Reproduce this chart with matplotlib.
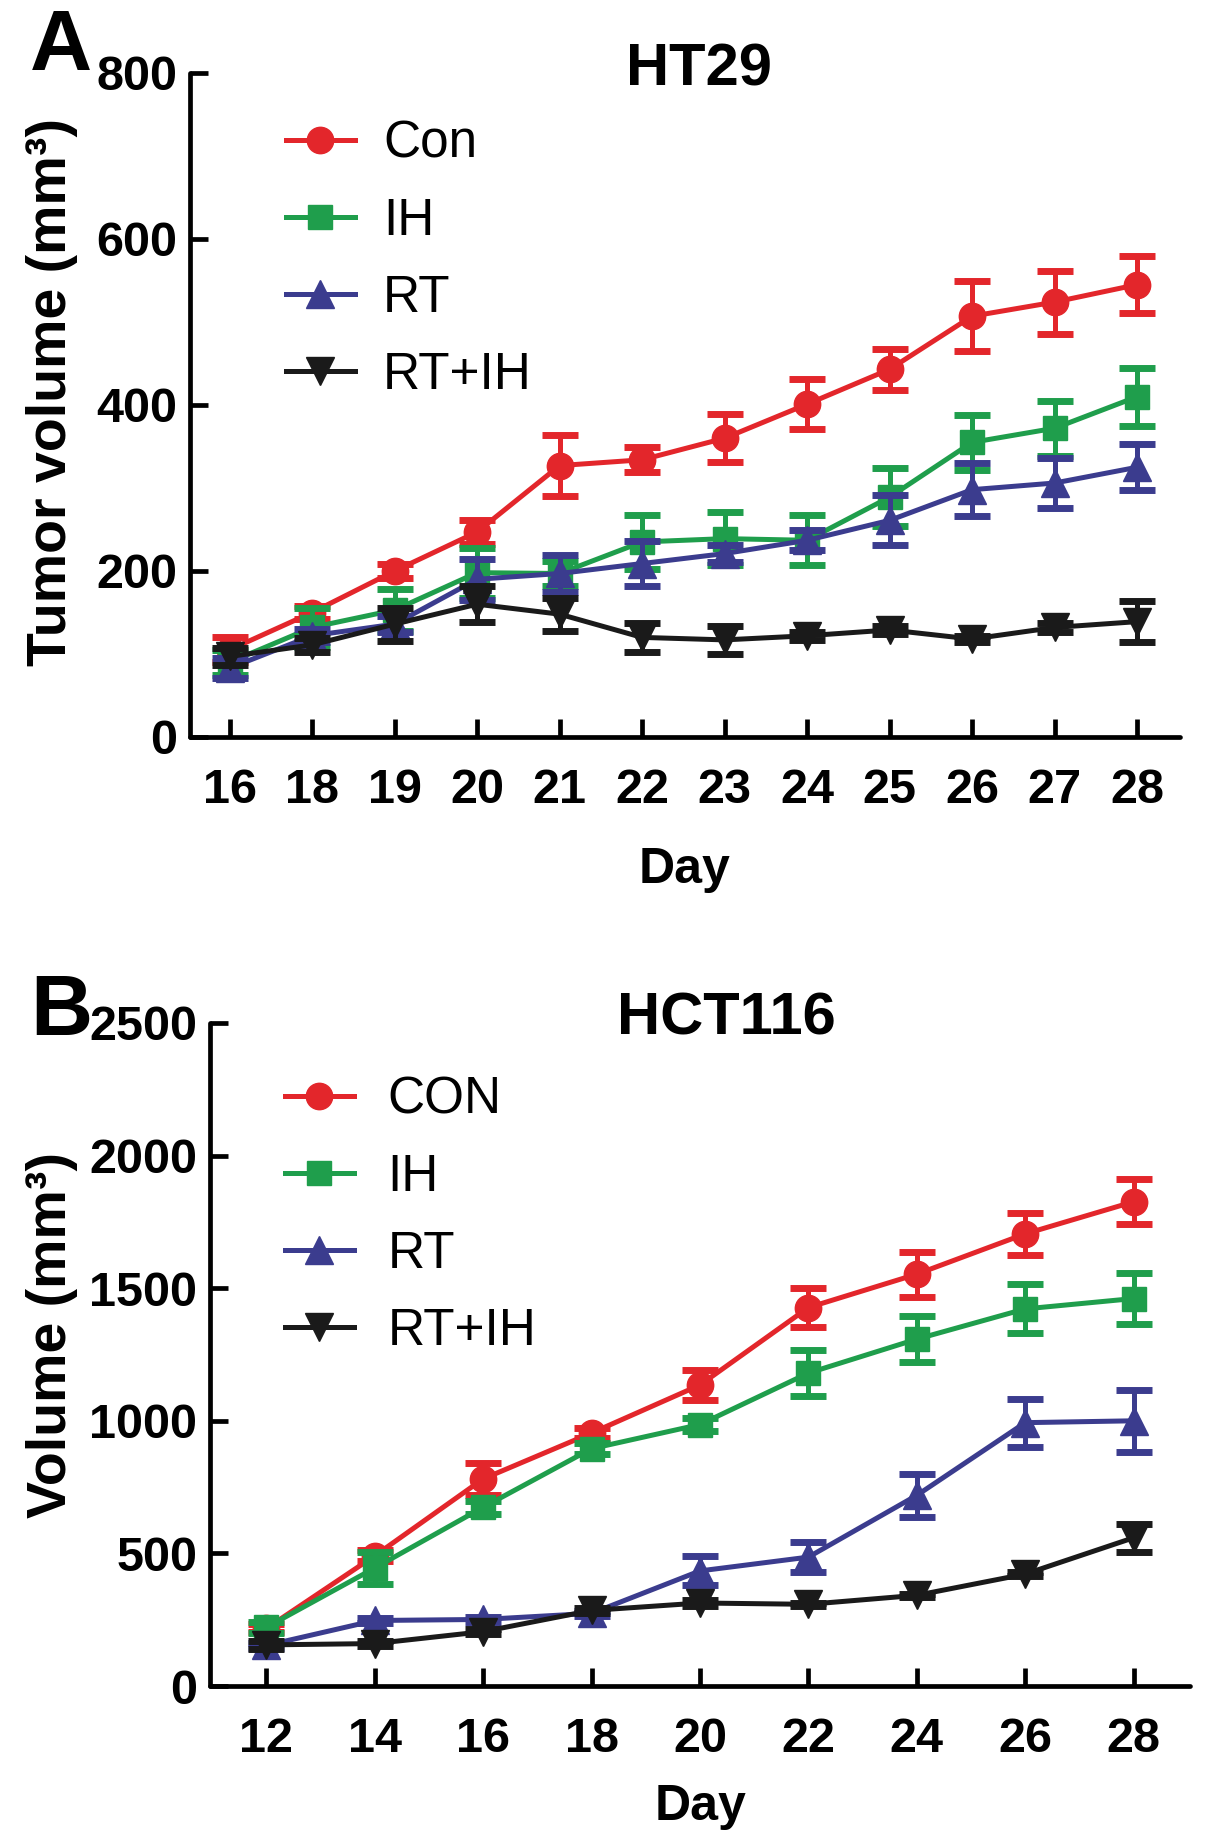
import matplotlib
matplotlib.use("Agg")
import matplotlib.pyplot as plt
import numpy as np

plt.rcParams['font.family'] = ['Liberation Sans', 'DejaVu Sans']

# ---- panel A : HT29 ----
days_a = ['16', '18', '19', '20', '21', '22', '23', '24', '25', '26', '27', '28']
con_a = [105, 150, 200, 247, 327, 334, 360, 401, 443, 507, 524, 545]
con_a_err = [15, 8, 8, 15, 37, 15, 29, 30, 25, 42, 38, 34]
ih_a = [90, 132, 153, 198, 197, 235, 239, 237, 289, 355, 372, 410]
ih_a_err = [15, 24, 25, 30, 15, 32, 32, 30, 35, 33, 33, 35]
rt_a = [83, 122, 136, 190, 197, 209, 221, 237, 261, 298, 306, 325]
rt_a_err = [12, 8, 10, 25, 22, 27, 10, 12, 30, 32, 30, 28]
rtih_a = [97, 111, 136, 160, 148, 120, 117, 122, 129, 118, 132, 139]
rtih_a_err = [10, 8, 20, 22, 20, 17, 17, 5, 5, 4, 5, 25]

# ---- panel B : HCT116 ----
days_b = ['12', '14', '16', '18', '20', '22', '24', '26', '28']
con_b = [217, 491, 781, 954, 1135, 1427, 1553, 1705, 1826]
con_b_err = [15, 20, 60, 20, 55, 75, 85, 80, 85]
ih_b = [221, 445, 674, 895, 986, 1180, 1308, 1422, 1461]
ih_b_err = [20, 60, 25, 20, 25, 88, 88, 92, 95]
rt_b = [153, 247, 251, 274, 434, 486, 719, 993, 1000]
rt_b_err = [10, 10, 10, 10, 55, 57, 80, 90, 118]
rtih_b = [155, 160, 205, 285, 313, 308, 342, 422, 559]
rtih_b_err = [15, 10, 10, 10, 10, 5, 5, 8, 52]

colors = ['#e3262b', '#1f9e4c', '#3b3c8e', '#1a1a1a']
markers = ['o', 's', '^', 'v']
msizes = [19, 17, 20, 20]

fig = plt.figure(figsize=(12.05, 18.47), dpi=100)
W, H = 1205.0, 1847.0


def make_axes(left, right, top, bottom):
    return fig.add_axes([left / W, 1 - bottom / H, (right - left) / W, (bottom - top) / H])


def style_axes(ax):
    for s in ['top', 'right']:
        ax.spines[s].set_visible(False)
    for s in ['left', 'bottom']:
        ax.spines[s].set_linewidth(3.4)
        ax.spines[s].set_capstyle('round')
    ax.tick_params(direction='in', length=13, width=3.4, labelsize=35)
    ax.tick_params(axis='x', pad=22)
    ax.tick_params(axis='y', pad=9)
    for lab in ax.get_xticklabels() + ax.get_yticklabels():
        lab.set_fontweight('bold')


def draw_panel(ax, days, series, errs):
    x = np.arange(len(days))
    handles = []
    for i in range(4):
        cont = ax.errorbar(x, series[i], yerr=errs[i], color=colors[i], lw=3.6,
                           marker=markers[i], ms=msizes[i], mec=colors[i],
                           elinewidth=3.6, capsize=13, capthick=5, zorder=3 + i,
                           clip_on=False)
        handles.append(cont.lines[0])
    ax.set_xticks(x)
    ax.set_xticklabels(days)
    return handles


# panel A
axa = make_axes(190, 1180, 73, 737)
ha = draw_panel(axa, days_a, [con_a, ih_a, rt_a, rtih_a],
                [con_a_err, ih_a_err, rt_a_err, rtih_a_err])
axa.set_xlim(-0.48, 11.52)
axa.set_ylim(0, 800)
axa.set_yticks([0, 200, 400, 600, 800])
style_axes(axa)
axa.set_ylabel('Tumor volume (mm³)', fontsize=40, fontweight='bold')
axa.yaxis.set_label_coords(-0.113, 0.52)
axa.set_xlabel('Day', fontsize=36, fontweight='bold')
axa.xaxis.set_label_coords(0.5, -0.165)
axa.text(0.514, 1.004, 'HT29', transform=axa.transAxes, ha='center', va='center',
         fontsize=43, fontweight='bold')
axa.legend(ha, ['Con', 'IH', 'RT', 'RT+IH'], loc='upper left',
           bbox_to_anchor=(75 / 990, 1 - 26 / 664), frameon=False, fontsize=37,
           handlelength=1.35, handletextpad=0.55, labelspacing=0.55, borderaxespad=0)
fig.text(30 / W, 1 - 48 / H, 'A', fontsize=62, fontweight='bold', ha='left', va='center')

# panel B
axb = make_axes(210, 1190, 1023, 1686)
hb = draw_panel(axb, days_b, [con_b, ih_b, rt_b, rtih_b],
                [con_b_err, ih_b_err, rt_b_err, rtih_b_err])
axb.set_xlim(-0.52, 8.52)
axb.set_ylim(0, 2500)
axb.set_yticks([0, 500, 1000, 1500, 2000, 2500])
style_axes(axb)
axb.set_ylabel('Volume (mm³)', fontsize=40, fontweight='bold')
axb.yaxis.set_label_coords(-0.135, 0.53)
axb.set_xlabel('Day', fontsize=36, fontweight='bold')
axb.xaxis.set_label_coords(0.5, -0.148)
axb.text(0.527, 1.006, 'HCT116', transform=axb.transAxes, ha='center', va='center',
         fontsize=43, fontweight='bold')
axb.legend(hb, ['CON', 'IH', 'RT', 'RT+IH'], loc='upper left',
           bbox_to_anchor=(54 / 980, 1 - 32 / 663), frameon=False, fontsize=37,
           handlelength=1.35, handletextpad=0.65, labelspacing=0.55, borderaxespad=0)
fig.text(30 / W, 1 - 1013 / H, 'B', fontsize=62, fontweight='bold', ha='left', va='center')

fig.savefig('out.png', dpi=100)
